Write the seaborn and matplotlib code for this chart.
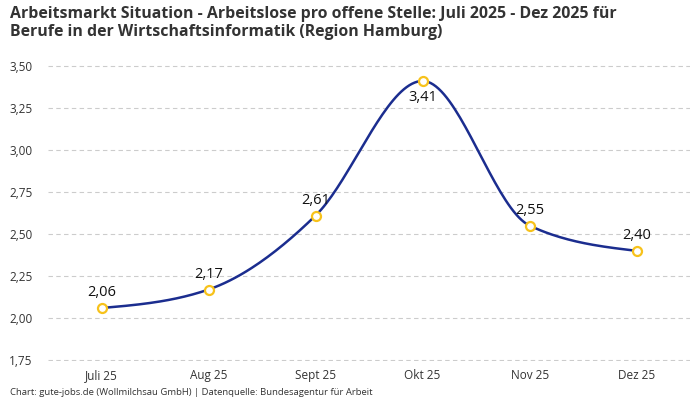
import numpy as np
import pandas as pd
import matplotlib
matplotlib.use("Agg")
import matplotlib.pyplot as plt
import seaborn as sns

# Data
months = ["Juli 25", "Aug 25", "Sept 25", "Okt 25", "Nov 25", "Dez 25"]
ratio = [2.06, 2.17, 2.61, 3.41, 2.55, 2.40]
y_ticks = [1.75, 2.00, 2.25, 2.50, 2.75, 3.00, 3.25, 3.50]

title = ("Arbeitsmarkt Situation - Arbeitslose pro offene Stelle: Juli 2025 - Dez 2025 für\n"
         "Berufe in der Wirtschaftsinformatik (Region Hamburg)")
source = "Chart: gute-jobs.de (Wollmilchsau GmbH) | Datenquelle: Bundesagentur für Arbeit"

LINE = "#1b2d8f"
MARK = "#f7c21b"
TEXT = "#333333"


def monotone_x(x, y, n=40):
    # monotone cubic interpolation (like d3.curveMonotoneX)
    x = np.asarray(x, float)
    y = np.asarray(y, float)
    h = np.diff(x)
    s = np.diff(y) / h
    t = np.zeros_like(y)
    for i in range(1, len(y) - 1):
        p = (s[i - 1] * h[i] + s[i] * h[i - 1]) / (h[i - 1] + h[i])
        t[i] = (np.sign(s[i - 1]) + np.sign(s[i])) * min(abs(s[i - 1]), abs(s[i]), 0.5 * abs(p))
    t[0] = (3 * s[0] - t[1]) / 2
    t[-1] = (3 * s[-1] - t[-2]) / 2
    xs, ys = [], []
    for i in range(len(y) - 1):
        u = np.linspace(0, 1, n, endpoint=(i == len(y) - 2))
        h00 = 2 * u**3 - 3 * u**2 + 1
        h10 = u**3 - 2 * u**2 + u
        h01 = -2 * u**3 + 3 * u**2
        h11 = u**3 - u**2
        xs.append(x[i] + u * h[i])
        ys.append(h00 * y[i] + h10 * h[i] * t[i] + h01 * y[i + 1] + h11 * h[i] * t[i + 1])
    return np.concatenate(xs), np.concatenate(ys)


df = pd.DataFrame({"pos": np.arange(len(months)), "month": months, "ratio": ratio})
cx, cy = monotone_x(df["pos"], df["ratio"])
curve = pd.DataFrame({"pos": cx, "ratio": cy})

sns.set_theme(style="white")
plt.rcParams["font.family"] = ["Open Sans", "DejaVu Sans"]

fig = plt.figure(figsize=(7, 4), dpi=100)
ax = fig.add_axes([0.0686, 0.0975, 0.9174, 0.74])

for yv in y_ticks:
    ax.axhline(yv, color="#cccccc", linestyle=(0, (4, 3)), linewidth=0.8, zorder=0)

sns.lineplot(data=curve, x="pos", y="ratio", ax=ax, color=LINE, linewidth=1.8, zorder=2)
sns.scatterplot(data=df, x="pos", y="ratio", ax=ax, s=42, color="white",
                edgecolor=MARK, linewidth=1.6, zorder=3)

for i, row in df.iterrows():
    below = row["ratio"] == max(ratio)
    ax.annotate(f"{row['ratio']:.2f}".replace(".", ","), (row["pos"], row["ratio"]),
                xytext=(0, -12 if below else 11), textcoords="offset points",
                ha="center", va="center", fontsize=10.5, fontweight="medium", color="#111111")

ax.set_xlim(-0.5, len(months) - 0.5)
ax.set_ylim(1.745, 3.505)
ax.set_xticks(df["pos"])
ax.set_xticklabels(months)
ax.set_yticks(y_ticks)
ax.set_yticklabels([f"{v:.2f}".replace(".", ",") for v in y_ticks])
ax.tick_params(axis="both", length=0, labelsize=8.5, labelcolor=TEXT)
ax.tick_params(axis="y", pad=11)
ax.tick_params(axis="x", pad=6)
ax.set_xlabel("")
ax.set_ylabel("")
sns.despine(ax=ax, left=True, bottom=True)

fig.text(0.014, 0.985, title, ha="left", va="top", fontsize=11.4, fontweight="bold",
         color=TEXT, linespacing=1.2)
fig.text(0.014, 0.008, source, ha="left", va="bottom", fontsize=6.8, color=TEXT)

fig.savefig("out.png", dpi=100)
